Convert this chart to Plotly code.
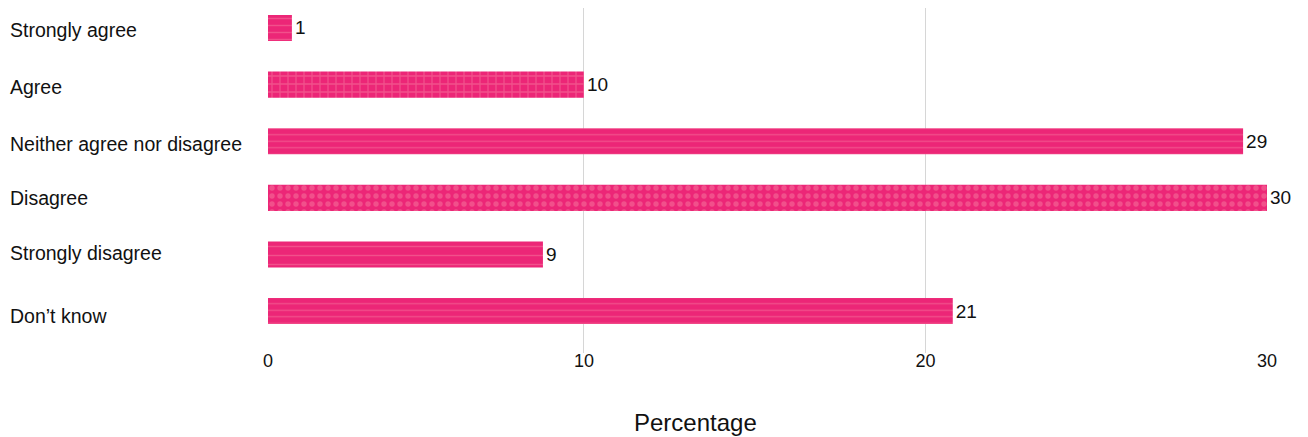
import plotly.graph_objects as go

categories = ["Strongly agree", "Agree", "Neither agree nor disagree", "Disagree",
              "Strongly disagree", "Don\u2019t know"]
values = [1.45, 10.0, 29.3, 30.0, 8.8, 20.8]
tick_vals = [0.75, 10, 20, 30]
tick_text = ["0", "10", "20", "30"]
x_title = "Percentage"

bar_color = "#EC2677"
pat_color = "#F6799F"
pat_shapes = ["-", "+", "-", ".", "-", "-"]
pat_sizes = [7, 8, 6.5, 8, 9, 6.5]
pat_solid = [0.2, 0.3, 0.2, 0.35, 0.15, 0.2]
label_yshift = [-2, -2, -3, 0, 1, -5]

FONT = "Liberation Sans, Arial, Helvetica, sans-serif"

fig = go.Figure()
fig.add_trace(go.Bar(
    x=values, y=categories, orientation="h", width=0.46,
    marker=dict(color=bar_color, line=dict(width=0),
                pattern=dict(shape=pat_shapes, fgcolor=pat_color, bgcolor=bar_color,
                             size=pat_sizes, solidity=pat_solid, fillmode="overlay")),
    text=[f"{v:.0f}" for v in values], texttemplate="%{text}", textposition="outside",
    textfont=dict(size=19, color="#111111", family=FONT),
    cliponaxis=False, hoverinfo="skip", showlegend=False,
))

# page body has an 8px margin; figure is sized/offset to compensate
W, H = 1300, 429
L, R, T, B = 260, 41, 0, 84
plot_w = W - L - R
plot_h = H - T - B

for c, ys in zip(categories, label_yshift):
    fig.add_annotation(x=(0 - L) / plot_w, xref="paper", xanchor="left",
                       y=c, yref="y", yanchor="middle", yshift=ys, text=c, showarrow=False,
                       font=dict(size=19.5, color="#111111", family=FONT))

fig.add_annotation(x=(687.5 - L) / plot_w, xref="paper", xanchor="center",
                   y=-(414 - plot_h) / plot_h, yref="paper", yanchor="middle",
                   text=x_title, showarrow=False,
                   font=dict(size=24, color="#111111", family=FONT))

fig.update_xaxes(range=[0.75, 30], tickvals=tick_vals, ticktext=tick_text,
                 showgrid=True, gridcolor="#D6D6D6", gridwidth=1, zeroline=False,
                 showline=False, ticks="", ticklabelstandoff=-5,
                 tickfont=dict(size=18, color="#111111", family=FONT))
fig.update_yaxes(categoryorder="array", categoryarray=categories,
                 range=[5.74, -0.353], showticklabels=False, showgrid=False, zeroline=False,
                 ticks="")

fig.update_layout(width=W, height=H, margin=dict(l=L, r=R, t=T, b=B),
                  plot_bgcolor="white", paper_bgcolor="white", bargap=0.5,
                  font=dict(family=FONT))
fig.write_html("out.html")
